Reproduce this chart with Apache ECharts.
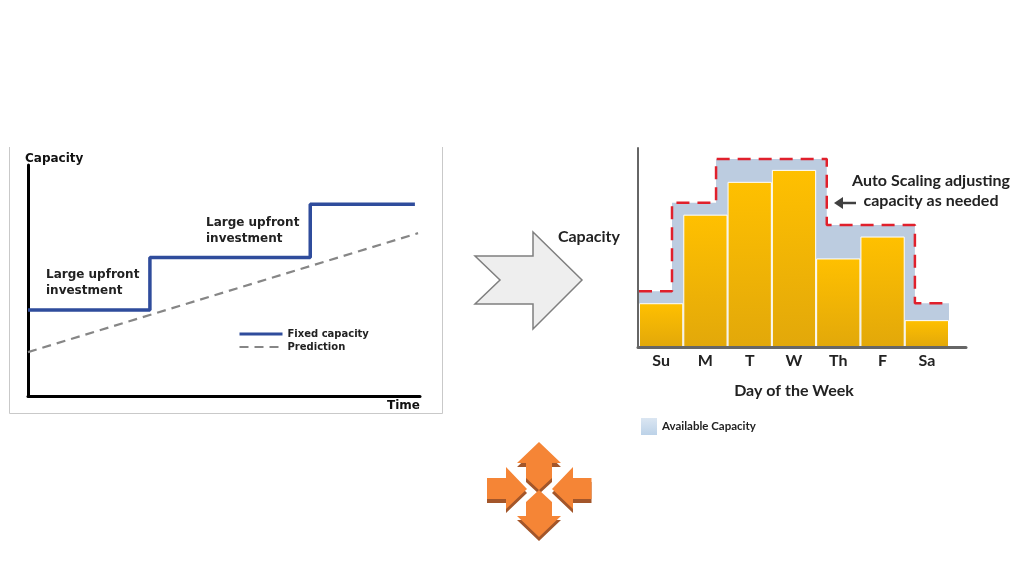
<!DOCTYPE html>
<html>
<head>
<meta charset="utf-8">
<style>
  html, body { margin: 0; padding: 0; background: #fff; }
  #chart { width: 1024px; height: 576px; }
</style>
<script src="https://cdn.jsdelivr.net/npm/echarts@6/dist/echarts.min.js"></script>
</head>
<body>
<div id="chart"></div>
<script>
// left chart
var fixedTime = [0, 31.1, 72, 98.7];
var fixedCapacity = [37.2, 60, 83, 83];
var predictionTime = [0, 99.5];
var predictionCapacity = [19, 70.5];

// right chart
var days = ["Su", "M", "T", "W", "Th", "F", "Sa"];
var usedCapacity = [22, 66.5, 83, 89, 44.5, 55.5, 13.5];
var availableTime = [0, 0.745, 1.74, 4.24, 6.23, 7];
var availableCapacity = [28, 72.5, 94.5, 61.3, 22, 22];

var calloutFont = "Lato";
var diagramFont = "DejaVu Sans";

var myChart = echarts.init(document.getElementById("chart"));

function note(x, y, text, font, size, lineHeight, align) {
  return {
    type: "text",
    x: x,
    y: y,
    style: {
      text: text,
      fontFamily: font,
      fontWeight: "bold",
      fontSize: size,
      lineHeight: lineHeight,
      fill: "#222",
      align: align || "left"
    }
  };
}

function shape(points, fill, stroke) {
  return {
    type: "polygon",
    shape: { points: points },
    style: { fill: fill, stroke: stroke || null, lineWidth: stroke ? 1.5 : 0 }
  };
}

// orange icon: dark copy shifted down, face on top
function iconArrow(points) {
  var dark = points.map(function (p) {
    return [p[0], p[1] + 4];
  });
  return [shape(dark, "#a3562a"), shape(points, "#f58536")];
}

var graphic = [
  {
    type: "polyline",
    shape: { points: [[9.5, 147], [9.5, 413.5], [442.5, 413.5], [442.5, 147]] },
    style: { stroke: "#c9c9c9", lineWidth: 1, fill: null }
  },
  note(46, 267, "Large upfront\ninvestment", diagramFont, 12, 16),
  note(206, 215, "Large upfront\ninvestment", diagramFont, 12, 16),
  note(931, 171, "Auto Scaling adjusting\ncapacity as needed", calloutFont, 16, 20, "center"),
  shape([[475, 256], [533, 256], [533, 232], [582, 280], [533, 329], [533, 304], [475, 304], [500, 280]], "#eeeeee", "#7f7f7f"),
  {
    type: "line",
    shape: { x1: 840, y1: 203, x2: 856, y2: 203 },
    style: { stroke: "#404040", lineWidth: 2.5 }
  },
  shape([[834, 203], [843, 197], [843, 209]], "#404040")
];

graphic = graphic
  .concat(iconArrow([[539, 442], [561, 463], [552, 463], [552, 478], [539, 490], [526, 478], [526, 463], [517, 463]]))
  .concat(iconArrow([[539, 490], [552, 502], [552, 516], [561, 516], [539, 537], [517, 516], [526, 516], [526, 502]]))
  .concat(iconArrow([[487, 478], [506, 478], [506, 467], [527, 489], [506, 509], [506, 499], [487, 499]]))
  .concat(iconArrow([[591.5, 478], [573, 478], [573, 467], [552, 489], [573, 509], [573, 499], [591.5, 499]]));

option = {
  backgroundColor: "#fff",
  animation: false,
  grid: [
    { left: 28, top: 165, width: 392, height: 231 },
    { left: 639, top: 148, width: 310, height: 199 },
    { left: 638, top: 148, width: 328, height: 199 }
  ],
  legend: [
    {
      orient: "vertical",
      left: 233,
      top: 324,
      itemWidth: 43,
      itemHeight: 10,
      itemGap: 3,
      itemStyle: { opacity: 0 },
      data: [
        { name: "Fixed capacity", lineStyle: { width: 3 } },
        { name: "Prediction", lineStyle: { width: 2 } }
      ],
      textStyle: { fontFamily: diagramFont, fontWeight: "bold", fontSize: 10, color: "#222" }
    },
    {
      left: 636,
      top: 413,
      itemWidth: 16,
      itemHeight: 17,
      itemGap: 7,
      icon: "rect",
      data: [{
        name: "Available Capacity",
        itemStyle: {
          color: new echarts.graphic.LinearGradient(0, 0, 0, 1, [
            { offset: 0, color: "#dbe6f2" },
            { offset: 1, color: "#bcd2e8" }
          ])
        }
      }],
      textStyle: { fontFamily: calloutFont, fontWeight: "bold", fontSize: 11.5, color: "#222", padding: [3, 0, 0, 0] }
    }
  ],
  xAxis: [
    {
      type: "value",
      gridIndex: 0,
      min: 0,
      max: 100,
      name: "Time",
      nameLocation: "end",
      nameGap: -33,
      nameTextStyle: {
        fontFamily: diagramFont,
        fontWeight: "bold",
        fontSize: 12,
        color: "#111",
        verticalAlign: "top",
        padding: [4, 0, 0, 0]
      },
      axisLine: { lineStyle: { color: "#000", width: 3 } },
      axisTick: { show: false },
      axisLabel: { show: false },
      splitLine: { show: false }
    },
    {
      type: "category",
      gridIndex: 1,
      data: days,
      name: "Day of the Week",
      nameLocation: "middle",
      nameGap: 36,
      nameTextStyle: { fontFamily: calloutFont, fontWeight: "bold", fontSize: 16, color: "#222" },
      axisLine: { show: false },
      axisTick: { show: false },
      axisLabel: { fontFamily: calloutFont, fontWeight: "bold", fontSize: 16, color: "#222", margin: 6, interval: 0 }
    },
    {
      type: "value",
      gridIndex: 1,
      min: 0,
      max: 7,
      show: false
    },
    {
      type: "value",
      gridIndex: 2,
      min: 0,
      max: 1,
      z: 6,
      axisLine: { lineStyle: { color: "#666", width: 3 } },
      axisTick: { show: false },
      axisLabel: { show: false },
      splitLine: { show: false }
    }
  ],
  yAxis: [
    {
      type: "value",
      gridIndex: 0,
      min: 0,
      max: 100,
      name: "Capacity",
      nameLocation: "end",
      nameGap: 0,
      nameTextStyle: {
        fontFamily: diagramFont,
        fontWeight: "bold",
        fontSize: 12,
        color: "#111",
        align: "left",
        padding: [0, 0, 0, -3]
      },
      axisLine: { lineStyle: { color: "#000", width: 3 } },
      axisTick: { show: false },
      axisLabel: { show: false },
      splitLine: { show: false }
    },
    {
      type: "value",
      gridIndex: 1,
      min: 0,
      max: 100,
      show: false
    },
    {
      type: "value",
      gridIndex: 2,
      min: 0,
      max: 100,
      z: 6,
      name: "Capacity",
      nameLocation: "middle",
      nameRotate: 0,
      nameGap: 18,
      nameTextStyle: {
        fontFamily: calloutFont,
        fontWeight: "bold",
        fontSize: 16,
        color: "#222",
        align: "right",
        verticalAlign: "bottom",
        padding: [0, 0, 3, 0]
      },
      axisLine: { show: true, lineStyle: { color: "#666", width: 2 } },
      axisTick: { show: false },
      axisLabel: { show: false },
      splitLine: { show: false }
    }
  ],
  series: [
    {
      name: "Fixed capacity",
      type: "line",
      step: "end",
      xAxisIndex: 0,
      yAxisIndex: 0,
      symbol: "none",
      data: fixedTime.map(function (t, i) { return [t, fixedCapacity[i]]; }),
      itemStyle: { color: "#2f4c9c" },
      lineStyle: { color: "#2f4c9c", width: 3.5 }
    },
    {
      name: "Prediction",
      type: "line",
      xAxisIndex: 0,
      yAxisIndex: 0,
      symbol: "none",
      data: predictionTime.map(function (t, i) { return [t, predictionCapacity[i]]; }),
      itemStyle: { color: "#868686" },
      lineStyle: { color: "#868686", width: 2.2, type: [9, 6] }
    },
    {
      name: "Available Capacity",
      type: "line",
      step: "end",
      xAxisIndex: 2,
      yAxisIndex: 1,
      symbol: "none",
      data: availableTime.map(function (t, i) { return [t, availableCapacity[i]]; }),
      itemStyle: { color: "#bccce0" },
      lineStyle: { width: 0 },
      areaStyle: { color: "#bccce0", opacity: 1 }
    },
    {
      name: "Capacity limit",
      type: "line",
      step: "end",
      xAxisIndex: 2,
      yAxisIndex: 1,
      symbol: "none",
      data: availableTime.map(function (t, i) { return [t, availableCapacity[i]]; }),
      lineStyle: { color: "#e0202c", width: 2.5, type: [13, 8] },
      itemStyle: { color: "#e0202c" },
      z: 5
    },
    {
      name: "Used capacity",
      type: "bar",
      xAxisIndex: 1,
      yAxisIndex: 1,
      barWidth: "100%",
      data: usedCapacity,
      itemStyle: {
        borderColor: "#fff",
        borderWidth: 1,
        color: new echarts.graphic.LinearGradient(0, 0, 0, 1, [
          { offset: 0, color: "#ffc000" },
          { offset: 1, color: "#e2a80a" }
        ])
      },
      z: 3
    }
  ],
  graphic: graphic
};

myChart.setOption(option);
</script>
</body>
</html>
